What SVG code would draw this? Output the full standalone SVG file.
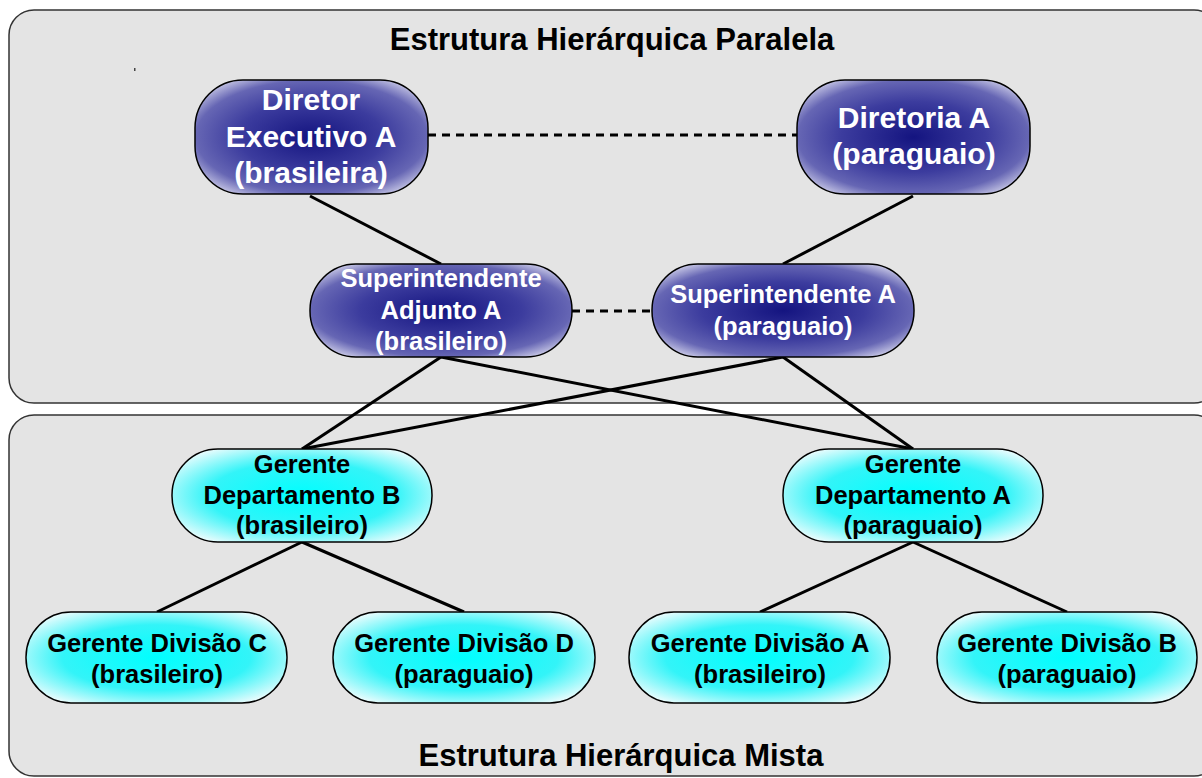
<svg xmlns="http://www.w3.org/2000/svg" width="1202" height="778" viewBox="0 0 1202 778">
<style>
.panel{fill:#e4e4e4;stroke:#333;stroke-width:1.5}
.title{font-family:"Liberation Sans",Arial,sans-serif;font-weight:bold;font-size:31px;fill:#000;text-anchor:middle}
.blue{fill:url(#gBlue);stroke:#000;stroke-width:1.5}
.cyan{fill:url(#gCyan);stroke:#000;stroke-width:1.5}
.tw{font-family:"Liberation Sans",Arial,sans-serif;font-weight:bold;fill:#fff;text-anchor:middle}
.tb{font-family:"Liberation Sans",Arial,sans-serif;font-weight:bold;fill:#000;text-anchor:middle;font-size:25.5px}
.line{stroke:#000;stroke-width:3;fill:none}
.dash{stroke:#000;stroke-width:3;fill:none;stroke-dasharray:8,6}
</style>
<defs>
<radialGradient id="gBlue" cx="0.5" cy="0.5" r="0.62">
<stop offset="0" stop-color="#141480"/>
<stop offset="0.5" stop-color="#3c3c9e"/>
<stop offset="0.8" stop-color="#6666b4"/>
<stop offset="1" stop-color="#d0d0ea"/>
</radialGradient>
<radialGradient id="gCyan" cx="0.5" cy="0.5" r="0.6">
<stop offset="0" stop-color="#00ffff"/>
<stop offset="0.6" stop-color="#33f4f8"/>
<stop offset="1" stop-color="#e6fcfd"/>
</radialGradient>
</defs>
<rect x="0" y="0" width="1202" height="778" fill="#fff"/>
<rect class="panel" x="9" y="10" width="1210" height="393" rx="25" ry="25"/>
<rect class="panel" x="9" y="415" width="1210" height="361" rx="25" ry="25"/>
<rect x="134" y="68" width="1.5" height="3" fill="#444"/>
<text class="title" x="612" y="50">Estrutura Hierárquica Paralela</text>
<text class="title" x="621" y="766">Estrutura Hierárquica Mista</text>
<g id="connectors">
<line class="dash" x1="428" y1="135" x2="797" y2="135"/>
<line class="dash" x1="572" y1="311" x2="652" y2="311"/>
<line class="line" x1="310" y1="196" x2="441" y2="264"/>
<line class="line" x1="913" y1="196" x2="783" y2="264"/>
<line class="line" x1="441" y1="357" x2="302" y2="449"/>
<line class="line" x1="441" y1="357" x2="913" y2="449"/>
<line class="line" x1="783" y1="357" x2="302" y2="449"/>
<line class="line" x1="783" y1="357" x2="913" y2="449"/>
<line class="line" x1="302" y1="542" x2="157" y2="612"/>
<line class="line" x1="302" y1="542" x2="464" y2="612"/>
<line class="line" x1="913" y1="542" x2="760" y2="612"/>
<line class="line" x1="913" y1="542" x2="1067" y2="612"/>
</g>
<g id="diretor-executivo">
<rect class="blue" x="195" y="80" width="233" height="114" rx="48" ry="48"/>
<text class="tw" font-size="30" x="311" y="110">Diretor</text>
<text class="tw" font-size="30" x="311" y="147">Executivo A</text>
<text class="tw" font-size="30" x="311" y="183">(brasileira)</text>
</g>
<g id="diretoria-a">
<rect class="blue" x="797" y="80" width="233" height="114" rx="48" ry="48"/>
<text class="tw" font-size="30" x="914" y="128">Diretoria A</text>
<text class="tw" font-size="30" x="914" y="164">(paraguaio)</text>
</g>
<g id="superintendente-adjunto">
<rect class="blue" x="310" y="264" width="262" height="93" rx="46" ry="46"/>
<text class="tw" font-size="25.5" x="441" y="287">Superintendente</text>
<text class="tw" font-size="25.5" x="441" y="319">Adjunto A</text>
<text class="tw" font-size="25.5" x="441" y="350">(brasileiro)</text>
</g>
<g id="superintendente-a">
<rect class="blue" x="652" y="264" width="262" height="93" rx="46" ry="46"/>
<text class="tw" font-size="25.5" x="783" y="303">Superintendente A</text>
<text class="tw" font-size="25.5" x="783" y="335">(paraguaio)</text>
</g>
<g id="gerente-dep-b">
<rect class="cyan" x="172" y="449" width="260" height="93" rx="46" ry="46"/>
<text class="tb" x="302" y="473">Gerente</text>
<text class="tb" x="302" y="504">Departamento B</text>
<text class="tb" x="302" y="534">(brasileiro)</text>
</g>
<g id="gerente-dep-a">
<rect class="cyan" x="783" y="449" width="260" height="93" rx="46" ry="46"/>
<text class="tb" x="913" y="473">Gerente</text>
<text class="tb" x="913" y="504">Departamento A</text>
<text class="tb" x="913" y="534">(paraguaio)</text>
</g>
<g id="gerente-div-c">
<rect class="cyan" x="26" y="612" width="261" height="91" rx="45" ry="45"/>
<text class="tb" x="157" y="652">Gerente Divisão C</text>
<text class="tb" x="157" y="683">(brasileiro)</text>
</g>
<g id="gerente-div-d">
<rect class="cyan" x="333" y="612" width="262" height="91" rx="45" ry="45"/>
<text class="tb" x="464" y="652">Gerente Divisão D</text>
<text class="tb" x="464" y="683">(paraguaio)</text>
</g>
<g id="gerente-div-a">
<rect class="cyan" x="629" y="612" width="261" height="91" rx="45" ry="45"/>
<text class="tb" x="760" y="652">Gerente Divisão A</text>
<text class="tb" x="760" y="683">(brasileiro)</text>
</g>
<g id="gerente-div-b">
<rect class="cyan" x="937" y="612" width="260" height="91" rx="45" ry="45"/>
<text class="tb" x="1067" y="652">Gerente Divisão B</text>
<text class="tb" x="1067" y="683">(paraguaio)</text>
</g>
</svg>
